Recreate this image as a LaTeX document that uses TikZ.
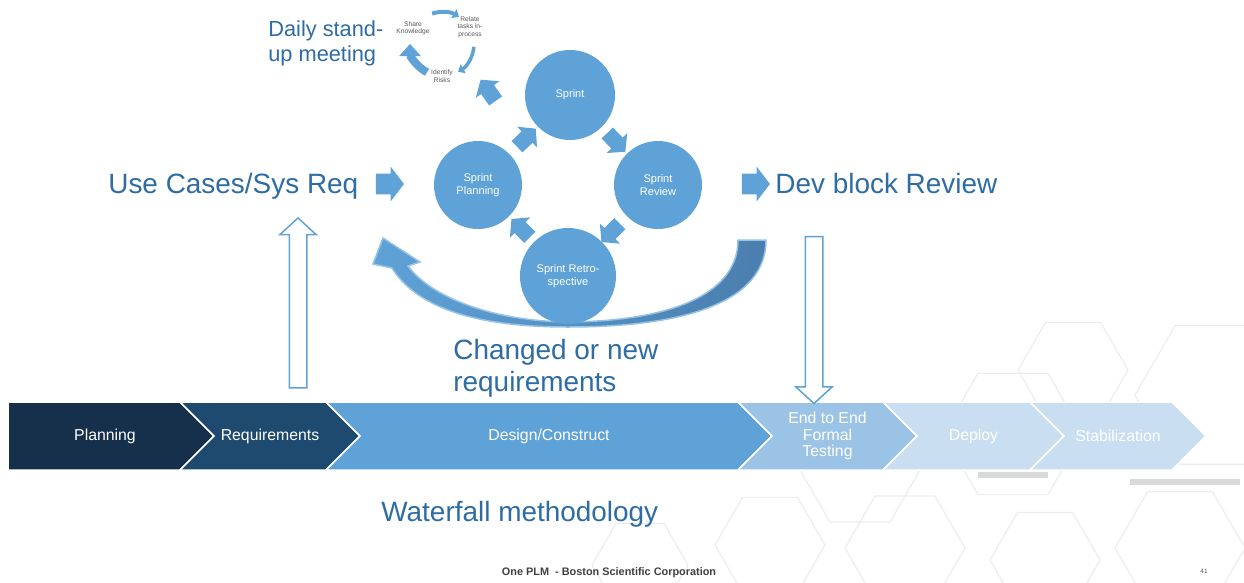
\documentclass[tikz,border=0pt]{standalone}
\usepackage{fontspec}
\setmainfont{Liberation Sans}
\usetikzlibrary{shapes.arrows,calc,arrows.meta,positioning}

\definecolor{barnavy}{RGB}{22,48,75}
\definecolor{reqblue}{RGB}{31,74,111}
\definecolor{midblue}{RGB}{95,162,215}
\definecolor{paleblue}{RGB}{155,195,230}
\definecolor{iceblue}{RGB}{201,222,241}
\definecolor{textblue}{RGB}{46,108,164}
\definecolor{arcdark}{RGB}{74,126,174}
\definecolor{arcpale}{RGB}{150,194,232}
\definecolor{labelgray}{RGB}{89,89,89}
\definecolor{footgray}{RGB}{64,64,64}

\newcommand{\pxu}{0.02cm}

\begin{document}
\begin{tikzpicture}[x=0.02cm,y=0.02cm,
    big text/.style={text=textblue,font=\fontsize{15.9}{18.1}\selectfont,inner sep=0},
    bar text/.style={text=white,font=\fontsize{9}{9.6}\selectfont,align=center,inner sep=0},
    bar seg/.style={draw=white,line width=1.5*\pxu,line join=miter},
    sprint node/.style={circle,fill=midblue,text=white,font=\fontsize{6.3}{7.4}\selectfont,align=center,inner sep=0,minimum size=90*\pxu},
    cyc text/.style={text=labelgray,font=\fontsize{3.8}{4.2}\selectfont,align=center,inner sep=0},
    block arrow/.style={single arrow,fill=midblue,inner xsep=0,inner ysep=7.5*\pxu,minimum height=26*\pxu,single arrow head extend=6.5*\pxu,single arrow tip angle=100},
    side arrow/.style={block arrow,inner ysep=10*\pxu,minimum height=28*\pxu,single arrow head extend=7*\pxu,single arrow tip angle=105},
    hollow arrow/.style={single arrow,draw=midblue,fill=white,line width=1.5*\pxu,inner xsep=0,inner ysep=8*\pxu,single arrow head extend=9.5*\pxu,single arrow tip angle=95},
    cyc arrow/.style={draw=midblue,line width=4*\pxu,-{Triangle[length=6*\pxu,width=10*\pxu]}},
    hex line/.style={draw=black!7,line width=1.2*\pxu},
    hex rim/.style={draw=black!15,line width=6*\pxu}]

    \fill[white] (0,0) rectangle (1244,-582);
    \useasboundingbox (0,0) rectangle (1244,-582);

    % faint hexagons in the background
    \foreach \hx/\hy/\hr in {1073/370/55,1215/395/80,1013/434/70,860/470/60,770/545/55,
        905/548/60,1045/560/55,1180/548/65,640/565/48}{
        \draw[hex line] (\hx,-\hy) ++(0:\hr) -- ++(120:\hr) -- ++(180:\hr) -- ++(240:\hr)
            -- ++(300:\hr) -- ++(0:\hr) -- cycle;
    }
    \draw[hex rim] (978,-475) -- (1048,-475);
    \draw[hex rim] (1130,-482) -- (1240,-482);

    % waterfall bar
    \draw[bar seg,fill=barnavy] (8,-402) -- (180,-402) -- (214,-436) -- (180,-470) -- (8,-470) -- cycle;
    \node[bar text] (plan) at (105,-436) {Planning};

    \foreach \xs/\xe/\col/\name/\lbl [
        evaluate = \xs as \xn using {int(\xs+34)},
        evaluate = \xe as \xt using {int(\xe+34)}
    ] in {180/326/reqblue/req/Requirements,
          326/738/midblue/design/{Design/Construct},
          738/883/paleblue/etest/{End to End\\Formal\\Testing},
          883/1030/iceblue/deploy/Deploy,
          1030/1172/iceblue/stab/Stabilization}{
        \draw[bar seg,fill=\col] (\xs,-402) -- (\xe,-402) -- (\xt,-436) -- (\xe,-470)
            -- (\xs,-470) -- (\xn,-436) -- cycle;
        \node[bar text] (\name) at ({(\xs+\xe)/2+17},-436) {\lbl};
    }

    % feedback band
    \draw[draw=arcpale,line width=1.5*\pxu,left color=midblue,middle color=arcpale,right color=arcdark]
        (766,-240) .. controls (766,-300) and (690,-327) .. (568,-327)
        .. controls (470,-327) and (415,-305) .. (392,-268)
        -- (373,-264) -- (383,-238) -- (420,-262) -- (408,-266)
        .. controls (430,-296) and (490,-321) .. (568,-322)
        .. controls (680,-321) and (738,-290) .. (738,-240) -- cycle;

    % sprint cycle
    \node[sprint node] (sprint) at (570,-95) {Sprint};
    \node[sprint node,minimum size=88*\pxu] (splan) at (478,-185) {Sprint\\Planning};
    \node[sprint node,minimum size=88*\pxu] (sreview) at (658,-185) {Sprint\\Review};
    \node[sprint node,minimum size=96*\pxu] (sretro) at (568,-276) {Sprint Retro-\\spective};

    \node[block arrow,rotate=44] (toSprint) at ($(splan)!0.5!(sprint)$) {};
    \node[block arrow,rotate=-46] (toReview) at ($(sprint)!0.5!(sreview)$) {};
    \node[block arrow,rotate=-135] (toRetro) at ($(sreview)!0.5!(sretro)$) {};
    \node[block arrow,rotate=135] (toPlan) at ($(sretro)!0.5!(splan)$) {};
    \node[block arrow,rotate=125] (toDaily) at (490,-93) {};

    % daily stand-up
    \coordinate (cyc) at (442,-44);
    \node[cyc text] (share) at (413,-28) {Share\\Knowledge};
    \node[cyc text] (relate) at (470,-27) {Relate\\tasks in-\\process};
    \node[cyc text] (risks) at (442,-76) {Identify\\Risks};
    \draw[cyc arrow] ([shift={(108:32)}]cyc) arc[start angle=108,end angle=58,radius=32];
    \draw[cyc arrow,line width=3.5*\pxu] ([shift={(-5:32)}]cyc) arc[start angle=-5,end angle=-60,radius=32];
    \draw[cyc arrow,line width=8*\pxu,-{Triangle[length=12*\pxu,width=21*\pxu]}]
        ([shift={(242:32)}]cyc) arc[start angle=242,end angle=180,radius=32];

    % texts
    \node[big text,font=\fontsize{12.4}{14.2}\selectfont,anchor=base west,align=left] (daily) at (268,-61) {Daily stand-\\up meeting};
    \node[big text,anchor=base west] (usecases) at (108,-193) {Use Cases/Sys Req};
    \node[big text,anchor=base west] (devblock) at (775,-193) {Dev block Review};
    \node[big text,anchor=base west,align=left] (changed) at (453,-391) {Changed or new\\requirements};
    \node[big text,anchor=base west] (waterfall) at (381,-521) {Waterfall methodology};

    \node[side arrow] (inArrow) at (386,-184) {};
    \node[side arrow] (outArrow) at (752,-184) {};

    % links to the waterfall bar
    \node[hollow arrow,rotate=90,minimum height=170*\pxu] (upReq) at (298,-307) {};
    \node[hollow arrow,rotate=-90,minimum height=167*\pxu] (downTest) at (814,-316) {};

    % footer
    \node[text=footgray,font=\bfseries\fontsize{6.2}{7}\selectfont] (footer) at (609,-573) {One PLM~ - Boston Scientific Corporation};
    \node[text=labelgray,font=\fontsize{3.6}{4}\selectfont] (pagenum) at (1204,-571) {41};

\end{tikzpicture}
\end{document}
